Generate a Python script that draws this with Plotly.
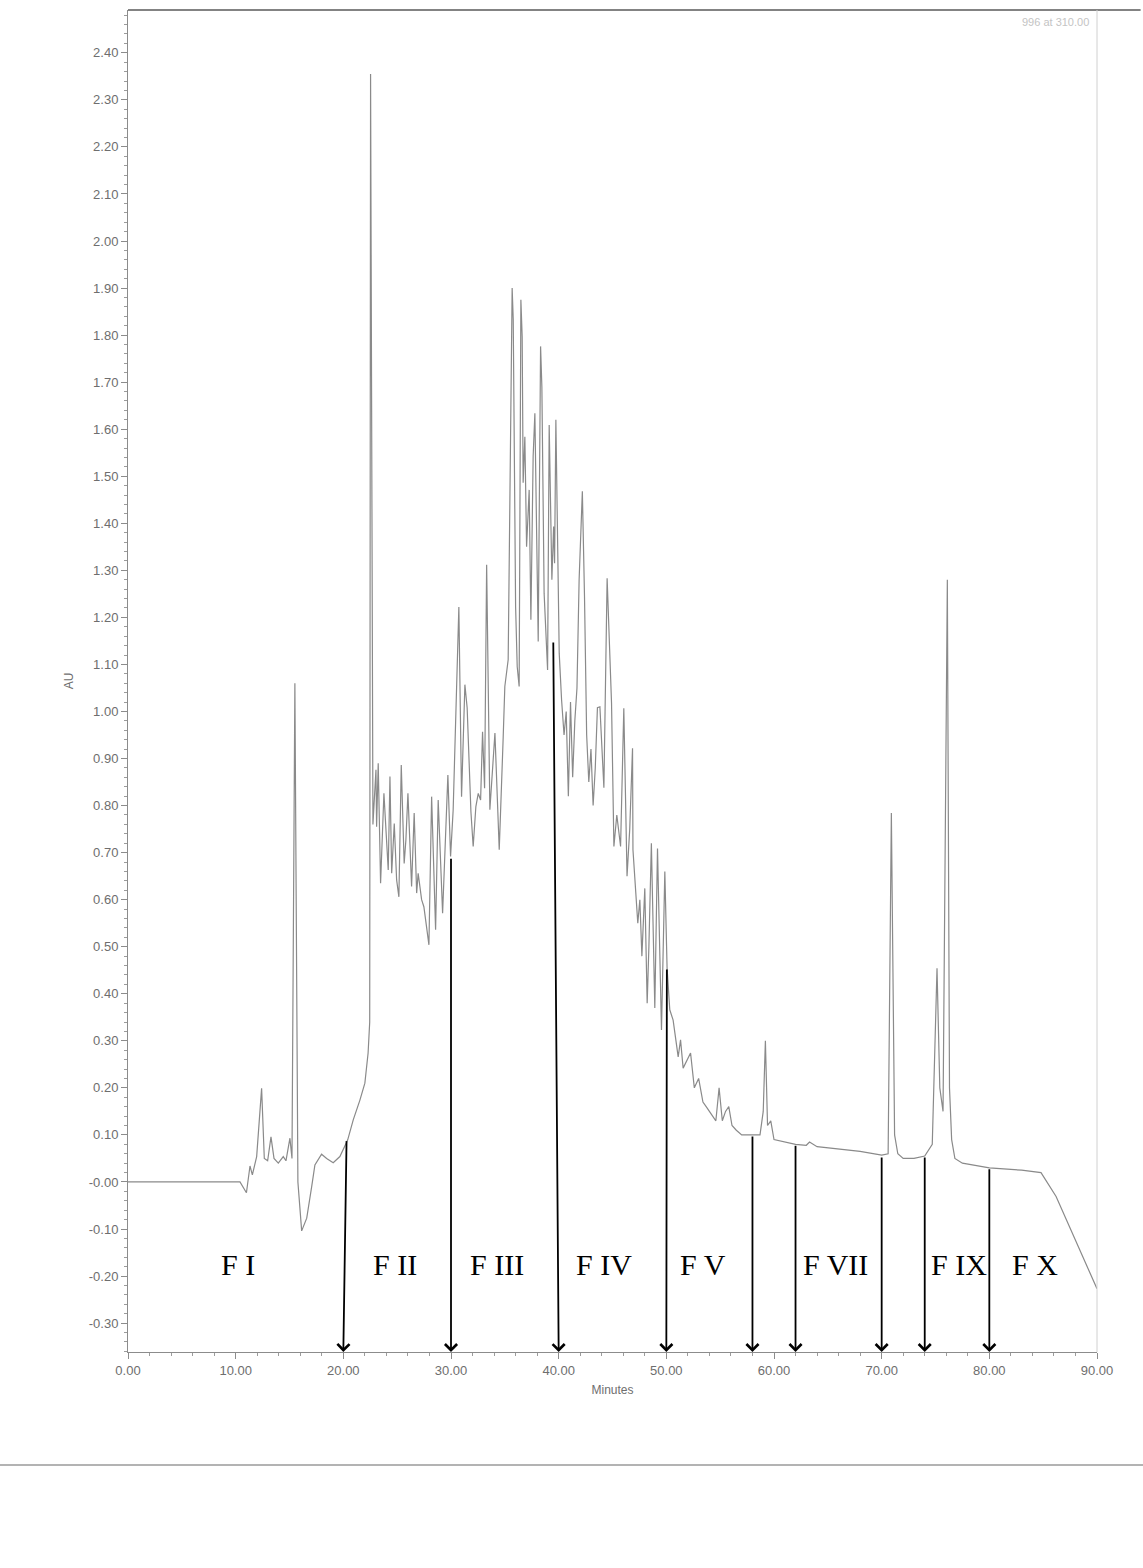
import plotly.graph_objects as go

# Chromatogram trace (retention time in minutes, absorbance in AU)
time_min = [
    0.0, 5.0, 10.4, 11.0, 11.33, 11.55, 11.95, 12.41, 12.66, 12.97, 13.28, 13.56, 13.96,
    14.42, 14.67, 15.04, 15.23, 15.50, 15.78, 16.13, 16.6, 17.06, 17.36, 17.98, 18.45,
    19.06, 19.68, 20.4, 20.92, 21.54, 22.0, 22.3, 22.45, 22.53, 22.75, 23.03, 23.09,
    23.24, 23.46, 23.77, 24.17, 24.33, 24.49, 24.73, 24.95, 25.16, 25.38, 25.65, 25.81,
    26.0, 26.34, 26.58, 26.81, 26.95, 27.27, 27.48, 27.95, 28.2, 28.57, 28.81, 29.22,
    29.71, 29.96, 30.2, 30.52, 30.73, 30.98, 31.29, 31.5, 31.85, 32.06, 32.31, 32.53,
    32.75, 32.93, 33.12, 33.31, 33.61, 34.08, 34.48, 34.85, 35.0, 35.31, 35.53, 35.68,
    35.78, 36.0, 36.15, 36.33, 36.49, 36.61, 36.7, 36.86, 37.02, 37.26, 37.42, 37.63,
    37.79, 37.95, 38.1, 38.32, 38.44, 38.65, 38.78, 38.97, 39.12, 39.25, 39.37, 39.53,
    39.62, 39.74, 39.9, 40.05, 40.27, 40.5, 40.7, 40.9, 41.1, 41.3, 41.5, 41.7, 41.9,
    42.2, 42.4, 42.6, 42.8, 43.0, 43.2, 43.4, 43.6, 43.83, 44.2, 44.5, 44.91, 45.13,
    45.4, 45.75, 46.05, 46.35, 46.6, 46.86, 46.9, 47.17, 47.35, 47.54, 47.73, 48.0,
    48.22, 48.38, 48.61, 48.93, 49.18, 49.55, 49.86, 50.07, 50.32, 50.63, 51.1, 51.32,
    51.56, 52.25, 52.6, 53.0, 53.4, 53.7, 54.0, 54.3, 54.6, 54.9, 55.2, 55.5, 55.8,
    56.1, 56.5, 57.0, 57.5, 58.0, 58.7, 59.0, 59.2, 59.4, 59.7, 60.0, 61.0, 62.0,
    63.0, 63.3, 64.0, 66.0, 68.0, 70.0, 70.6, 70.9, 71.2, 71.5, 72.0, 73.0, 74.0,
    74.7, 75.14, 75.4, 75.7, 76.1, 76.3, 76.5, 76.8, 77.5, 80.0, 83.0, 84.8, 86.2,
    87.7, 90.0,
]
absorbance = [
    0.000, 0.000, 0.000, -0.023, 0.034, 0.015, 0.054, 0.199, 0.050, 0.045, 0.096, 0.050, 0.040,
    0.054, 0.045, 0.093, 0.050, 1.060, 0.000, -0.104, -0.077, -0.010, 0.036, 0.059, 0.050,
    0.041, 0.054, 0.089, 0.132, 0.174, 0.210, 0.274, 0.340, 2.355, 0.760, 0.876, 0.755,
    0.890, 0.635, 0.826, 0.663, 0.862, 0.656, 0.762, 0.642, 0.606, 0.886, 0.677, 0.727,
    0.826, 0.628, 0.784, 0.614, 0.656, 0.600, 0.585, 0.504, 0.819, 0.536, 0.812, 0.571,
    0.865, 0.692, 0.790, 1.025, 1.222, 0.819, 1.057, 1.008, 0.787, 0.713, 0.798, 0.826,
    0.812, 0.957, 0.837, 1.312, 0.791, 0.954, 0.706, 0.947, 1.053, 1.110, 1.648, 1.900,
    1.833, 1.223, 1.095, 1.053, 1.875, 1.797, 1.486, 1.584, 1.350, 1.471, 1.195, 1.542,
    1.634, 1.407, 1.149, 1.776, 1.690, 1.251, 1.180, 1.088, 1.609, 1.372, 1.280, 1.393,
    1.315, 1.620, 1.372, 1.124, 1.025, 0.950, 1.000, 0.820, 1.020, 0.860, 0.980, 1.050, 1.280,
    1.468, 1.244, 0.950, 0.850, 0.920, 0.800, 0.880, 1.008, 1.010, 0.838, 1.283, 1.018, 0.713,
    0.780, 0.713, 1.007, 0.650, 0.750, 0.922, 0.706, 0.620, 0.550, 0.600, 0.480, 0.624,
    0.380, 0.500, 0.720, 0.370, 0.709, 0.323, 0.660, 0.454, 0.366, 0.344, 0.266, 0.302,
    0.242, 0.274, 0.200, 0.220, 0.170, 0.160, 0.150, 0.140, 0.130, 0.200, 0.130, 0.150, 0.160,
    0.120, 0.110, 0.100, 0.100, 0.100, 0.100, 0.150, 0.300, 0.120, 0.130, 0.090, 0.085, 0.080,
    0.078, 0.085, 0.075, 0.070, 0.065, 0.057, 0.060, 0.784, 0.100, 0.060, 0.050, 0.050, 0.055,
    0.080, 0.454, 0.200, 0.150, 1.280, 0.200, 0.090, 0.050, 0.040, 0.030, 0.025, 0.020, -0.031,
    -0.109, -0.227,
]

# Fraction cut points: arrow foot on the time axis and where it leaves the trace
cut_time = [20, 30, 40, 50, 58, 62, 70, 74, 80]
cut_from_time = [20.3, 30.0, 39.5, 50.05, 58.0, 62.0, 70.0, 74.0, 80.0]
cut_from_au = [0.090, 0.690, 1.150, 0.455, 0.100, 0.080, 0.055, 0.055, 0.030]

# Fraction labels
fraction_names = ["F I", "F II", "F III", "F IV", "F V", "F VII", "F IX", "F X"]
fraction_pos = [10.25, 24.8, 34.3, 44.2, 53.4, 65.7, 77.2, 84.2]
label_au = -0.176

x_ticks = [0, 10, 20, 30, 40, 50, 60, 70, 80, 90]
y_ticks = [round(-0.3 + 0.1 * i, 2) for i in range(28)]

y_min, y_max = -0.3614, 2.491
axis_floor = y_min

fig = go.Figure()
fig.add_trace(go.Scatter(
    x=time_min, y=absorbance, mode="lines",
    line=dict(color="#8a8a8a", width=1.2),
    hoverinfo="skip", showlegend=False,
))

for x0, tx, ty in zip(cut_time, cut_from_time, cut_from_au):
    fig.add_annotation(
        x=x0, y=axis_floor, ax=tx, ay=ty, xref="x", yref="y", axref="x", ayref="y",
        showarrow=True, arrowhead=4, arrowsize=1.3, arrowwidth=1.8, arrowcolor="black",
        standoff=0, startstandoff=0, text="",
    )

for name, pos in zip(fraction_names, fraction_pos):
    fig.add_annotation(
        x=pos, y=label_au, xref="x", yref="y", text=name, showarrow=False,
        font=dict(family="Liberation Serif, Times New Roman, serif", size=30, color="black"),
        xanchor="center", yanchor="middle",
    )

fig.add_annotation(
    x=1, y=1, xref="paper", yref="paper", text="996 at 310.00", showarrow=False,
    xanchor="right", yanchor="top", xshift=-6, yshift=-4,
    font=dict(family="Arial, Liberation Sans, sans-serif", size=11, color="#c4c4c4"),
)

# frame: darker top rule, faint right rule, scanned page edge below the plot
fig.add_shape(type="line", xref="paper", yref="paper", x0=0, x1=1.045, y0=1, y1=1,
              line=dict(color="#5a5a5a", width=1.5))
fig.add_shape(type="line", xref="paper", yref="paper", x0=1, x1=1, y0=0, y1=1,
              line=dict(color="#d0d0d0", width=1))
fig.add_shape(type="line", xref="paper", yref="paper", x0=-0.14, x1=1.05, y0=-0.0842, y1=-0.0842,
              line=dict(color="#9a9a9a", width=1.5))

tick_font = dict(family="Arial, Liberation Sans, sans-serif", size=13, color="#6e6e6e")
title_font = dict(family="Arial, Liberation Sans, sans-serif", size=12, color="#6e6e6e")

fig.update_xaxes(
    range=[0, 90], tickvals=x_ticks, ticktext=[f"{v:.2f}" for v in x_ticks],
    showline=True, linecolor="#8c8c8c", linewidth=1, ticks="outside", ticklen=6,
    tickcolor="#8c8c8c", tickfont=tick_font, showgrid=False, zeroline=False,
    minor=dict(dtick=2, ticks="outside", ticklen=3, tickcolor="#9c9c9c", showgrid=False),
    title=dict(text="Minutes", font=title_font, standoff=9),
)
fig.update_yaxes(
    range=[y_min, y_max], tickvals=y_ticks,
    ticktext=["-0.00" if abs(v) < 1e-9 else f"{v:.2f}" for v in y_ticks],
    showline=True, linecolor="#8c8c8c", linewidth=1, ticks="outside", ticklen=6,
    tickcolor="#8c8c8c", tickfont=tick_font, showgrid=False, zeroline=False,
    minor=dict(dtick=0.02, ticks="outside", ticklen=3, tickcolor="#9c9c9c", showgrid=False),
    title=dict(text="AU", font=title_font, standoff=12),
)

fig.update_layout(
    width=1143, height=1568,
    margin=dict(l=128, r=46, t=10, b=216),
    plot_bgcolor="white", paper_bgcolor="white",
    showlegend=False,
)

fig.write_html("out.html")
